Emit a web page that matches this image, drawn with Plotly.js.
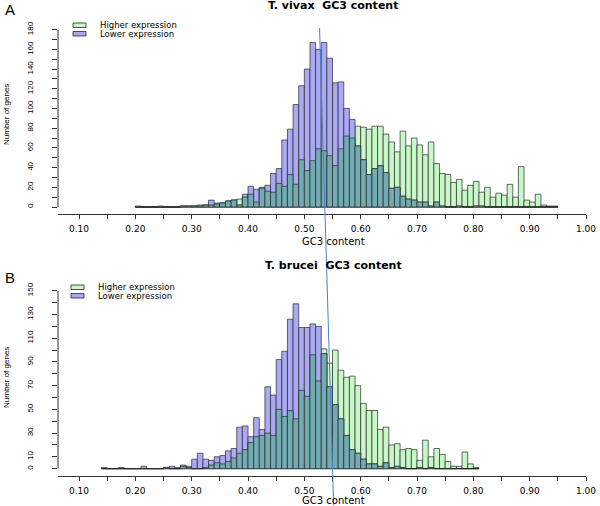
<!DOCTYPE html>
<html>
<head>
<meta charset="utf-8">
<script src="https://cdn.plot.ly/plotly-3.0.1.min.js"></script>
<style>html,body{margin:0;padding:0;background:#fff}#chart{width:600px;height:506px}</style>
</head>
<body>
<div id="chart"></div>
<script>
// ---------- DATA ----------
// Panel A: T. vivax GC3 content (bin left edges, width 0.01)
const binsA = [0.20,0.21,0.22,0.23,0.24,0.25,0.26,0.27,0.28,0.29,
  0.30,0.31,0.32,0.33,0.34,0.35,0.36,0.37,0.38,0.39,
  0.40,0.41,0.42,0.43,0.44,0.45,0.46,0.47,0.48,0.49,
  0.50,0.51,0.52,0.53,0.54,0.55,0.56,0.57,0.58,0.59,
  0.60,0.61,0.62,0.63,0.64,0.65,0.66,0.67,0.68,0.69,
  0.70,0.71,0.72,0.73,0.74,0.75,0.76,0.77,0.78,0.79,
  0.80,0.81,0.82,0.83,0.84,0.85,0.86,0.87,0.88,0.89,
  0.90,0.91,0.92,0.93,0.94];
const higherA = [0,0,0,0,0,0,0,0,1,1,
  1,1,2,2,4,4,6,7,8,10,
  13,5,19,16,15,24,21,33,23,48,
  37,47,59,57,52,42,59,72,70,82,
  81,79,82,82,74,66,56,77,62,70,
  63,53,66,44,34,33,25,28,17,22,
  26,15,20,10,14,12,23,10,41,7,
  5,13,2,1,1];
const lowerA = [1,0,0,0,1,0,0,0,1,1,
  1,2,2,7,3,4,6,7,2,13,
  21,18,20,22,34,39,68,79,104,123,
  140,167,160,167,151,126,127,100,89,62,
  48,33,39,42,35,19,20,11,8,7,
  5,5,1,5,1,0,0,1,0,0,
  1,1,0,0,0,0,0,0,0,0,
  0,0,0,0,0];

// Panel B: T. brucei GC3 content
const binsB = [0.14,0.15,0.16,0.17,0.18,0.19,
  0.20,0.21,0.22,0.23,0.24,0.25,0.26,0.27,0.28,0.29,
  0.30,0.31,0.32,0.33,0.34,0.35,0.36,0.37,0.38,0.39,
  0.40,0.41,0.42,0.43,0.44,0.45,0.46,0.47,0.48,0.49,
  0.50,0.51,0.52,0.53,0.54,0.55,0.56,0.57,0.58,0.59,
  0.60,0.61,0.62,0.63,0.64,0.65,0.66,0.67,0.68,0.69,
  0.70,0.71,0.72,0.73,0.74,0.75,0.76,0.77,0.78,0.79,
  0.80];
const higherB = [1,0,0,0,0,0,
  0,0,0,0,0,1,0,0,2,1,
  0,0,1,3,5,4,6,9,13,16,
  22,27,28,30,28,50,44,49,42,66,
  61,96,74,101,89,100,83,77,78,70,
  55,49,49,33,35,20,21,16,17,16,
  7,24,10,17,12,6,2,2,14,4,
  1];
const lowerB = [0,0,0,1,0,0,
  0,2,0,0,0,1,2,1,3,2,
  8,13,8,7,10,11,15,17,35,36,
  27,43,33,69,62,92,99,126,139,119,
  119,122,120,97,69,54,42,28,16,13,
  8,4,4,2,5,1,2,1,0,0,
  1,0,1,0,0,0,0,0,0,0,
  0];

const seriesNames = ["Higher expression", "Lower expression"];
const titles = ["T. vivax\u00a0 GC3 content", "T. brucei\u00a0 GC3 content"];
const xTitle = "GC3 content";
const yTitle = "Number of genes";
const panelLabels = ["A", "B"];
const xTickVals = [0.10,0.15,0.20,0.25,0.30,0.35,0.40,0.45,0.50,0.55,0.60,0.65,0.70,0.75,0.80,0.85,0.90,0.95,1.00];
const xTickText = ["0.10","","0.20","","0.30","","0.40","","0.50","","0.60","","0.70","","0.80","","0.90","","1.00"];
const yTickValsA = [0,10,20,30,40,50,60,70,80,90,100,110,120,130,140,150,160,170,180];
const yTickTextA = ["0","","20","","40","","60","","80","","100","","120","","140","","160","","180"];
const yTickValsB = [0,10,20,30,40,50,60,70,80,90,100,110,120,130,140,150];
const yTickTextB = ["0","10","","30","","50","","70","","90","","110","","130","","150"];
const binWidth = 0.01;
// guide line (x value at top of A, at bottom of B)
const guideX = [0.527, 0.552];

// ---------- STYLE ----------
const W = 600, H = 506;
const px = x => x / W;
const py = y => 1 - y / H;
const GREEN = "#c8f8c8", BLUE = "#aaaaf4", TEAL = "#72abb1", EDGE = "#2a2a2a";

function barTraces(bins, hi, lo, xa, ya) {
  const both = hi.map((v, i) => Math.min(v, lo[i]));
  const common = {type: "bar", x: bins, width: binWidth, offset: 0, xaxis: xa, yaxis: ya,
    showlegend: false, hoverinfo: "x+y"};
  return [
    Object.assign({}, common, {y: hi, name: seriesNames[0], marker: {color: GREEN, line: {color: EDGE, width: 0.7}}}),
    Object.assign({}, common, {y: lo, name: seriesNames[1], marker: {color: BLUE, line: {color: EDGE, width: 0.7}}}),
    Object.assign({}, common, {y: both, name: "overlap", marker: {color: TEAL, line: {color: EDGE, width: 0.7}}})
  ];
}

const data = [].concat(
  barTraces(binsA, higherA, lowerA, "x", "y"),
  barTraces(binsB, higherB, lowerB, "x2", "y2")
);

const tickFontX = {family: "DejaVu Sans, sans-serif", size: 9, color: "#000"};
const tickFontY = {family: "Liberation Sans Narrow, Liberation Sans, sans-serif", size: 8, color: "#000"};

function xAxis(anchor) {
  return {domain: [px(58), px(586)], range: [0.0627, 1.0], anchor: anchor,
    tickmode: "array", tickvals: xTickVals, ticktext: xTickText,
    ticks: "outside", ticklen: 4, tickcolor: "#333", tickwidth: 1,
    showline: true, linecolor: "#333", linewidth: 1,
    showgrid: false, zeroline: false, tickfont: tickFontX, ticklabelstandoff: 2, fixedrange: true};
}
function yAxis(anchor, dom, rng, tv, tt) {
  return {domain: dom, range: rng, anchor: anchor,
    tickmode: "array", tickvals: tv, ticktext: tt, tickangle: -90,
    ticks: "outside", ticklen: 5, tickcolor: "#333", tickwidth: 1,
    showline: false, showgrid: false, zeroline: false, tickfont: tickFontY,
    ticklabelstandoff: 16, fixedrange: true};
}

const shapes = [
  // y axis lines spanning only the tick range (R style)
  {type: "line", xref: "paper", yref: "y", x0: px(58), x1: px(58), y0: 0, y1: 180, line: {color: "#333", width: 1}},
  {type: "line", xref: "paper", yref: "y2", x0: px(58), x1: px(58), y0: 0, y1: 150, line: {color: "#333", width: 1}},
  // guide line through both panels
  {type: "line", xref: "x", yref: "paper", x0: guideX[0], x1: guideX[1], y0: py(28), y1: py(505),
    line: {color: "#4a80d0", width: 1}},
  // legend keys A
  {type: "rect", xref: "paper", yref: "paper", x0: px(73), x1: px(86), y0: py(27.5), y1: py(23), fillcolor: GREEN, line: {color: EDGE, width: 0.8}},
  {type: "rect", xref: "paper", yref: "paper", x0: px(73), x1: px(86), y0: py(36), y1: py(31.5), fillcolor: BLUE, line: {color: EDGE, width: 0.8}},
  // legend keys B
  {type: "rect", xref: "paper", yref: "paper", x0: px(71), x1: px(84), y0: py(289.5), y1: py(285), fillcolor: GREEN, line: {color: EDGE, width: 0.8}},
  {type: "rect", xref: "paper", yref: "paper", x0: px(71), x1: px(84), y0: py(298), y1: py(293.5), fillcolor: BLUE, line: {color: EDGE, width: 0.8}}
];

const legFont = {family: "DejaVu Sans, sans-serif", size: 8.5, color: "#000"};
const titleFont = {family: "DejaVu Sans, sans-serif", size: 11, color: "#000", weight: "bold"};
const axTitleFont = {family: "DejaVu Sans, sans-serif", size: 10, color: "#000"};
const yTitleFont = {family: "Liberation Sans Narrow, Liberation Sans, sans-serif", size: 8, color: "#000"};
const panelFont = {family: "Liberation Sans, Arial, sans-serif", size: 15, color: "#000"};

function ann(text, x, y, font, extra) {
  return Object.assign({text: text, xref: "paper", yref: "paper", x: px(x), y: py(y),
    showarrow: false, font: font, xanchor: "center", yanchor: "middle", borderpad: 0}, extra || {});
}

const annotations = [
  ann(panelLabels[0], 10, 9, panelFont),
  ann(panelLabels[1], 10, 277, panelFont),
  ann(titles[0], 333, 5, titleFont),
  ann(titles[1], 333, 265, titleFont),
  ann(xTitle, 333, 241, axTitleFont),
  ann(xTitle, 333, 500, axTitleFont),
  ann(yTitle, 6, 115, yTitleFont, {textangle: -90}),
  ann(yTitle, 6, 378, yTitleFont, {textangle: -90}),
  ann(seriesNames[0], 99, 25, legFont, {xanchor: "left"}),
  ann(seriesNames[1], 99, 34, legFont, {xanchor: "left"}),
  ann(seriesNames[0], 97, 287, legFont, {xanchor: "left"}),
  ann(seriesNames[1], 97, 296, legFont, {xanchor: "left"})
];

const layout = {
  width: W, height: H, margin: {l: 0, r: 0, t: 0, b: 0},
  paper_bgcolor: "#fff", plot_bgcolor: "rgba(0,0,0,0)",
  barmode: "overlay", bargap: 0, showlegend: false,
  xaxis: xAxis("y"),
  yaxis: yAxis("x", [py(214), py(26.7)], [-7.1, 183], yTickValsA, yTickTextA),
  xaxis2: xAxis("y2"),
  yaxis2: yAxis("x2", [py(476), py(287.2)], [-6.2, 153], yTickValsB, yTickTextB),
  shapes: shapes, annotations: annotations
};

Plotly.newPlot("chart", data, layout, {displayModeBar: false, staticPlot: true});
</script>
</body>
</html>
